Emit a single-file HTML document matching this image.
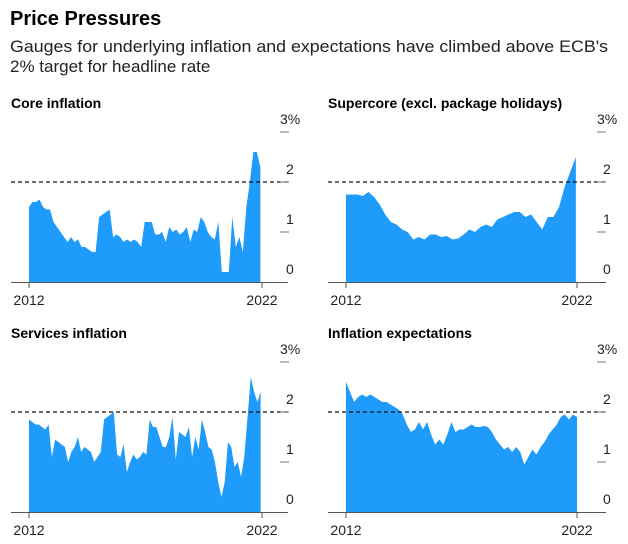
<!DOCTYPE html>
<html><head><meta charset="utf-8"><style>
body{margin:0;background:#fff;width:628px;height:539px;overflow:hidden;font-family:"Liberation Sans",Arial,sans-serif}
svg text{font-family:"Liberation Sans",Arial,sans-serif}
</style></head><body>
<svg id="chart" width="628" height="539" xmlns="http://www.w3.org/2000/svg">
<text x="10" y="25" font-size="20" font-weight="bold" fill="#000">Price Pressures</text>
<text x="10" y="52" font-size="17" fill="#222" textLength="598" lengthAdjust="spacingAndGlyphs">Gauges for underlying inflation and expectations have climbed above ECB's</text>
<text x="10" y="72" font-size="17" fill="#222">2% target for headline rate</text>
</svg>
<script>
const years = [2012, 2022];
const yTicks = [0, 1, 2, 3];
const yTickLabels = ["0", "1", "2", "3%"];
const target = 2;
const titles = ["Core inflation", "Supercore (excl. package holidays)", "Services inflation", "Inflation expectations"];
const coreValues = [1.5,1.6,1.6,1.65,1.5,1.45,1.45,1.2,1.1,1.0,0.9,0.8,0.9,0.8,0.85,0.7,0.7,0.65,0.6,0.6,1.3,1.35,1.4,1.45,0.9,0.95,0.9,0.8,0.85,0.8,0.85,0.8,0.7,1.2,1.2,1.2,0.95,0.95,1.0,0.8,1.1,1.0,1.05,0.95,1.0,1.1,0.8,1.05,1.0,1.3,1.2,1.0,0.9,0.85,1.2,0.2,0.2,0.2,1.3,0.7,0.9,0.6,1.5,2.0,2.6,2.6,2.3];
const supercoreValues = [1.75,1.75,1.75,1.72,1.8,1.7,1.55,1.35,1.2,1.15,1.05,1.0,0.85,0.9,0.85,0.95,0.95,0.9,0.92,0.85,0.87,0.95,1.05,1.0,1.1,1.15,1.1,1.25,1.3,1.35,1.4,1.4,1.3,1.35,1.2,1.05,1.3,1.3,1.5,1.9,2.2,2.5];
const servicesValues = [1.85,1.8,1.75,1.75,1.7,1.65,1.75,1.1,1.45,1.4,1.35,1.3,1.0,1.2,1.3,1.5,1.2,1.3,1.25,1.2,1.0,1.1,1.2,1.85,1.9,1.95,2.0,1.15,1.1,1.35,0.8,1.0,1.15,1.05,1.1,1.2,1.15,1.85,1.7,1.7,1.5,1.3,1.3,1.5,1.9,1.05,1.6,1.55,1.5,1.7,1.1,1.5,1.25,1.85,1.6,1.3,1.25,1.0,0.6,0.3,0.6,1.4,1.3,0.9,1.0,0.7,1.1,1.9,2.7,2.4,2.2,2.4];
const expectationsValues = [2.6,2.4,2.2,2.3,2.35,2.3,2.35,2.3,2.25,2.2,2.2,2.15,2.1,2.05,1.95,1.75,1.6,1.65,1.8,1.65,1.8,1.55,1.35,1.45,1.35,1.55,1.8,1.6,1.65,1.65,1.7,1.75,1.7,1.7,1.72,1.7,1.6,1.45,1.35,1.25,1.3,1.2,1.3,1.2,0.95,1.1,1.25,1.15,1.3,1.4,1.55,1.65,1.75,1.9,1.95,1.85,1.95,1.9];
const seriesList = [coreValues, supercoreValues, servicesValues, expectationsValues];
const ends = [0.993, 0.995, 0.994, 1.0];
const NS = "http://www.w3.org/2000/svg";
const svg = document.getElementById("chart");
const panels = [
  {ox:0, oy:0, x0:29, x1:262, axL:11, axR:288, tx:280, tt:11},
  {ox:0, oy:0, x0:346, x1:577, axL:328, axR:606, tx:597, tt:328},
  {ox:0, oy:230, x0:29, x1:262, axL:11, axR:288, tx:280, tt:11},
  {ox:0, oy:230, x0:346, x1:577, axL:328, axR:606, tx:597, tt:328}
];
function mk(tag, attrs){const e=document.createElementNS(NS,tag);for(const k in attrs)e.setAttribute(k,attrs[k]);svg.appendChild(e);return e;}
panels.forEach((p, i) => {
  const base = 282 + p.oy;
  const yScale = v => base - 50 * v;
  const data = seriesList[i];
  const xScale = t => p.x0 + (p.x1 - p.x0) * t;
  const t = document.createElementNS(NS,"text");
  
  
  t.setAttribute("x", p.tt); t.setAttribute("y", 108 + p.oy);
  t.setAttribute("font-size", "14"); t.setAttribute("font-weight", "bold");
  t.textContent = titles[i]; svg.appendChild(t);
  let d = "M" + xScale(0) + "," + base;
  data.forEach((v, j) => { d += "L" + xScale(j / (data.length - 1) * ends[i]).toFixed(2) + "," + yScale(v).toFixed(2); });
  d += "L" + xScale(ends[i]).toFixed(2) + "," + base + "Z";
  const area = mk("path", {d: d, fill: "#1e9bfb"});
  
  
  const ax = mk("line", {x1:p.axL, x2:p.axR, y1:base+0.5, y2:base+0.5, stroke:"#555", "stroke-width":1});
  
  
  const tl = mk("line", {x1:p.axL, x2:p.axR, y1:yScale(target), y2:yScale(target), stroke:"#111", "stroke-width":1.3, "stroke-dasharray":"4,3"});
  
  
  yTicks.forEach((v, k) => {
    if (v > 0) {
      const tk = mk("line", {x1:p.tx, x2:p.tx+9, y1:yScale(v), y2:yScale(v), stroke:"#777", "stroke-width":1});
      
      
    }
    const lb = mk("text", {x:p.tx + (v===3?0:6), y:yScale(v) - 8, "font-size":"14", fill:"#222"});
    
    
    lb.textContent = yTickLabels[k];
  });
  years.forEach((yr, k) => {
    const x = k === 0 ? p.x0 : p.x1;
    const tk = mk("line", {x1:x, x2:x, y1:base, y2:base+6, stroke:"#555", "stroke-width":1});
    
    
    const lb = mk("text", {x:x, y:base+23, "font-size":"14", fill:"#222", "text-anchor":"middle"});
    
    
    lb.textContent = String(yr);
  });
});
</script>
</body></html>
